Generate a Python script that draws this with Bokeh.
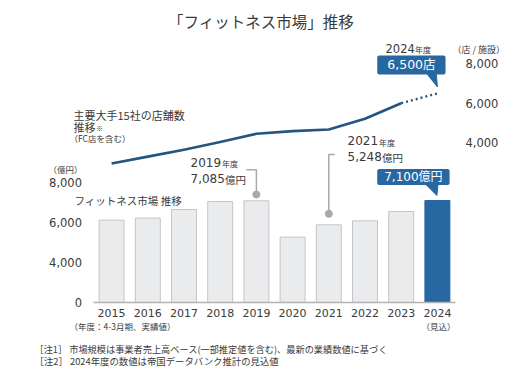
from bokeh.plotting import figure
from bokeh.models import Range1d, Label
from bokeh.core.properties import value
from bokeh.embed import file_html
from bokeh.resources import INLINE

# ---------------- data ----------------
YEARS = ["2015", "2016", "2017", "2018", "2019", "2020", "2021", "2022", "2023", "2024"]
MARKET = [6120, 6220, 6650, 7050, 7085, 5270, 5885, 6085, 6550, 7100]      # 億円 (bars)
STORES = [2950, 3300, 3650, 4040, 4455, 4590, 4670, 5215, 6005, 6500]      # 店 (line)
LEFT_TICKS = [0, 4000, 6000, 8000]
RIGHT_TICKS = [4000, 6000, 8000]
AXIS_BREAK = 2000   # left axis jumps from 0 straight to this value

CJK = "Noto Sans CJK JP"
NUM = "DejaVu Sans"
MIX = "DejaVu Sans, Noto Sans CJK JP"
TXT = "#3a3a3a"
BLUE = "#2767a2"
LINEC = "#23557f"
GRAYF = "#e9ebed"
GRAYE = "#c3c5c8"
ANN = "#a9a9a9"

# ---------------- canvas geometry ----------------
W, H = 520, 376
C0 = 111.1          # px of first category centre
UX = 36.2           # px per category
BASE_PX = 302       # px of axis line
LPX = 50.0          # left-axis units per px
RPX = 50.63         # right-axis units per px
R4000_PX = 142.3    # px of right 4,000 tick

def sx(px):
    return (px - C0) / UX

def ly(py):
    return AXIS_BREAK + (BASE_PX - py) * LPX

def ry(py):
    return 4000 + (R4000_PX - py) * RPX

p = figure(width=W, height=H, title=None,
           x_range=Range1d(sx(0), sx(W)), y_range=Range1d(ly(H), ly(0)),
           x_axis_type=None, y_axis_type=None,
           output_backend="svg", toolbar_location=None, min_border=0)
p.extra_y_ranges = {"stores": Range1d(ry(H), ry(0))}
p.outline_line_color = None
p.background_fill_color = "white"
p.border_fill_color = "white"
p.grid.visible = False

idx = list(range(len(YEARS)))

# bars
fills = [GRAYF] * (len(YEARS) - 1) + [BLUE]
edges = [GRAYE] * (len(YEARS) - 1) + [BLUE]
p.vbar(x=idx, top=MARKET, bottom=AXIS_BREAK, width=0.69,
       fill_color=fills, line_color=edges, line_width=1)

# x axis line and labels
p.line(x=[idx[0] - 0.5, idx[-1] + 0.5], y=[AXIS_BREAK, AXIS_BREAK],
       line_color="#b3b3b3", line_width=1.5)
p.text(x=idx, y=[AXIS_BREAK - 10.5 * LPX] * len(idx), text=YEARS,
       text_font=value(NUM), text_font_size="11px", text_color=TXT,
       text_align="center", text_baseline="middle")

# left axis labels (broken axis: 0 sits at AXIS_BREAK)
lpos = [max(v, AXIS_BREAK) for v in LEFT_TICKS]
p.text(x=[sx(81.5)] * len(lpos), y=lpos, text=[f"{v:,}" for v in LEFT_TICKS],
       text_font=value(NUM), text_font_size="11.5px", text_color=TXT,
       text_align="right", text_baseline="middle")

# right axis labels
p.text(x=[sx(465)] * len(RIGHT_TICKS), y=RIGHT_TICKS, y_range_name="stores",
       text=[f"{v:,}" for v in RIGHT_TICKS],
       text_font=value(NUM), text_font_size="11.5px", text_color=TXT,
       text_align="left", text_baseline="middle")

# line (solid actuals, dotted forecast)
p.line(x=idx[:-1], y=STORES[:-1], y_range_name="stores", line_color=LINEC,
       line_width=2.6, line_join="round")
p.line(x=idx[-2:], y=STORES[-2:], y_range_name="stores", line_color=LINEC,
       line_width=2.4, line_dash="2 3")

def lab(text, x, y, size, font=CJK, color=TXT, align="left", base="middle", **kw):
    l = Label(x=x, y=y, text=text, text_font=font, text_font_size=size,
              text_color=color, text_align=align, text_baseline=base, **kw)
    p.add_layout(l)
    return l

# title
lab("「フィットネス市場」推移", sx(260.5), ly(20), "15.5px", align="center")

# 2024 store callout
c24 = idx[-1]
lab("2024", sx(385), ly(47.5), "11.5px", font=NUM)
lab("年度", sx(414.5), ly(49), "8px")
lab("（店 / 施設）", sx(452), ly(49), "9px")
s_anchor = STORES[-1]
lab("6,500店", c24 - 26 / UX, s_anchor + 28.5 * RPX, "12.5px", font=MIX,
    color="white", align="center", y_range_name="stores",
    background_fill_color=BLUE,
    padding=dict(left=10, right=10, top=2, bottom=2), border_radius=2)
p.patch(x=[c24 - 10 / UX, c24 - 1 / UX, c24],
        y=[s_anchor + 19 * RPX, s_anchor + 19 * RPX, s_anchor + 6.5 * RPX],
        y_range_name="stores", fill_color=BLUE, line_color=BLUE)

# line legend
lab("主要大手15社の店舗数", sx(73), ly(114.5), "11px")
lab("推移", sx(73), ly(126.5), "11px")
lab("※", sx(95.5), ly(127.5), "7px")
lab("（FC店を含む）", sx(69), ly(137), "8.5px")

# bar legend
lab("（億円）", sx(48), ly(168), "8.5px")
lab("フィットネス市場 推移", sx(74), ly(200), "10.5px")

# 2019 annotation
i19 = YEARS.index("2019")
lab("2019", sx(190), ly(161.5), "12px", font=NUM)
lab("年度", sx(221.5), ly(163), "8px")
lab("7,085", sx(190), ly(177.5), "12px", font=NUM)
lab("億円", sx(224.5), ly(178.5), "10.5px")
p.line(x=[i19 - 10 / UX, i19, i19], y=[ly(169.3), ly(169.3), ly(194)],
       line_color=ANN, line_width=1.5)
p.scatter(x=[i19], y=[ly(194)], size=7, fill_color=ANN, line_color=ANN)

# 2021 annotation
i21 = YEARS.index("2021")
lab("2021", sx(347), ly(140), "12px", font=NUM)
lab("年度", sx(378.5), ly(141.5), "8px")
lab("5,248", sx(347), ly(155.5), "12px", font=NUM)
lab("億円", sx(381.5), ly(156.5), "10.5px")
p.line(x=[i21 + 6 / UX, i21, i21], y=[ly(154), ly(154), ly(213.3)],
       line_color=ANN, line_width=1.5)
p.scatter(x=[i21], y=[ly(213.3)], size=7, fill_color=ANN, line_color=ANN)

# 2024 market callout
m_anchor = MARKET[-1]
lab("7,100億円", c24 - 24 / UX, m_anchor + 23.5 * LPX, "12px", font=MIX,
    color="white", align="center", background_fill_color=BLUE,
    padding=dict(left=7, right=7, top=1, bottom=1), border_radius=2)
p.patch(x=[c24 - 11 / UX, c24 + 0.5 / UX, c24 - 0.5 / UX],
        y=[m_anchor + 15.5 * LPX, m_anchor + 15.5 * LPX, m_anchor + 5 * LPX],
        fill_color=BLUE, line_color=BLUE)

# axis footnotes
lab("（年度：4-3月期、実績値）", sx(69), ly(325), "8.5px")
lab("（見込）", sx(421), ly(325), "8.5px")

# notes
lab("［注1］ 市場規模は事業者売上高ベース(一部推定値を含む)、最新の業績数値に基づく",
    sx(34), ly(348), "9.2px")
lab("［注2］ 2024年度の数値は帝国データバンク推計の見込値", sx(34), ly(360), "9.4px")

open("out.html", "w").write(file_html(p, INLINE))
